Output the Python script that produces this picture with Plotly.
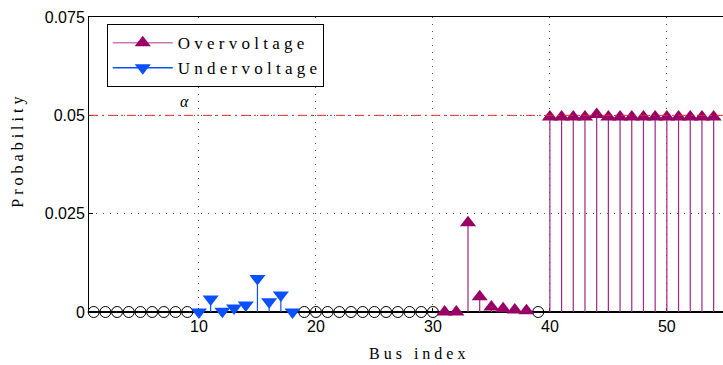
import plotly.graph_objects as go

# ---- data ----
zero_bus = [1, 2, 3, 4, 5, 6, 7, 8, 9,
            19, 20, 21, 22, 23, 24, 25, 26, 27, 28, 29, 30,
            39]
zero_val = [0.0] * len(zero_bus)

under_bus = [10, 11, 12, 13, 14, 15, 16, 17, 18]
under_val = [0.0, 0.0033, 0.0002, 0.0010, 0.0018, 0.0085, 0.0026, 0.0043, 0.0]

over_bus = [31, 32, 33, 34, 35, 36, 37, 38,
            40, 41, 42, 43, 44, 45, 46, 47, 48, 49, 50, 51, 52, 53, 54, 55]
over_val = [0.0, 0.0, 0.0227, 0.0039, 0.0013, 0.0008, 0.0005, 0.0003,
            0.0496, 0.0496, 0.0496, 0.0496, 0.0502, 0.0496, 0.0496, 0.0496,
            0.0496, 0.0496, 0.0496, 0.0496, 0.0496, 0.0496, 0.0496, 0.0496]

alpha = 0.05
x_ticks = [10, 20, 30, 40, 50]
y_ticks = [0, 0.025, 0.05, 0.075]
y_ticktext = ["0", "0.025", "0.05", "0.075"]

OVER_C = "#990066"
OVER_LINE = "#A32680"
UNDER_C = "#0A50FF"
SERIF = "Liberation Serif"
SANS = "Liberation Sans"


def spaced(s, sep="\u2009"):
    return sep.join(s)


def stems(xs, ys):
    sx, sy = [], []
    for x, y in zip(xs, ys):
        sx += [x, x, None]
        sy += [0, y, None]
    return sx, sy


fig = go.Figure()

# stems
ox, oy = stems(over_bus, over_val)
fig.add_trace(go.Scatter(x=ox, y=oy, mode="lines", line=dict(color=OVER_LINE, width=1.2),
                         showlegend=False, hoverinfo="skip", cliponaxis=False))
ux, uy = stems(under_bus, under_val)
fig.add_trace(go.Scatter(x=ux, y=uy, mode="lines", line=dict(color=UNDER_C, width=1.2),
                         showlegend=False, hoverinfo="skip", cliponaxis=False))

# zero circles
fig.add_trace(go.Scatter(x=zero_bus, y=zero_val, mode="markers",
                         marker=dict(symbol="circle-open", size=11, color="black",
                                     line=dict(width=1, color="black")),
                         showlegend=False, cliponaxis=False))

# markers
fig.add_trace(go.Scatter(x=over_bus, y=over_val, mode="markers",
                         marker=dict(symbol="triangle-up", size=14, color=OVER_C),
                         showlegend=False, cliponaxis=False))
fig.add_trace(go.Scatter(x=under_bus, y=under_val, mode="markers",
                         marker=dict(symbol="triangle-down", size=14, color=UNDER_C),
                         showlegend=False, cliponaxis=False))

# legend entries
fig.add_trace(go.Scatter(x=[None], y=[None], mode="lines+markers", name=spaced("Overvoltage", "\u2005"),
                         line=dict(color="#C77BB0", width=1.5),
                         marker=dict(symbol="triangle-up", size=14, color=OVER_C)))
fig.add_trace(go.Scatter(x=[None], y=[None], mode="lines+markers", name=spaced("Undervoltage", "\u2005"),
                         line=dict(color=UNDER_C, width=1.5),
                         marker=dict(symbol="triangle-down", size=14, color=UNDER_C)))

# alpha threshold line
fig.add_shape(type="line", xref="paper", x0=0, x1=1, yref="y", y0=alpha, y1=alpha,
              line=dict(color="#D83030", width=1, dash="9px,4px,2px,4px"), layer="above")
# baseline
fig.add_shape(type="line", xref="paper", x0=0, x1=1, yref="y", y0=0, y1=0,
              line=dict(color="black", width=2), layer="below")

fig.add_annotation(x=8.8, y=0.0535, text="<i>α</i>", showarrow=False,
                   font=dict(family=SERIF, size=16, color="black"))
fig.add_annotation(xref="paper", yref="paper", x=(417 - 89) / 634, y=-0.105,
                   text=spaced("Bus index", "\u2005"), showarrow=False, yanchor="top",
                   font=dict(family=SERIF, size=16, color="black"))
fig.add_annotation(xref="paper", yref="paper", x=(18 - 89) / 634, y=0.54, textangle=-90,
                   text=spaced("Probability", "\u2005"), showarrow=False, xanchor="center",
                   font=dict(family=SERIF, size=16, color="black"))

grid_dash = "1px,6px"
fig.update_layout(
    width=723, height=365,
    margin=dict(l=89, r=0, t=17, b=53),
    plot_bgcolor="white", paper_bgcolor="white",
    showlegend=True,
    legend=dict(x=0.028, y=0.976, xanchor="left", yanchor="top",
                bgcolor="white", bordercolor="black", borderwidth=1,
                font=dict(family=SERIF, size=17, color="black"),
                tracegroupgap=0, itemwidth=60),
    xaxis=dict(range=[0.6, 54.8], tickvals=x_ticks, showgrid=True, gridcolor="#555",
               griddash=grid_dash, gridwidth=1, zeroline=False, showline=True,
               linecolor="black", linewidth=1, mirror=True, ticks="inside", ticklen=4,
               tickcolor="black", layer="below traces",
               tickfont=dict(family=SANS, size=16, color="black")),
    yaxis=dict(range=[0, 0.075], tickvals=y_ticks, ticktext=y_ticktext, showgrid=True,
               gridcolor="#555", griddash=grid_dash, gridwidth=1, zeroline=False,
               showline=True, linecolor="black", linewidth=1, mirror=True,
               ticks="inside", ticklen=4, tickcolor="black", layer="below traces",
               tickfont=dict(family=SANS, size=16, color="black")),
)

fig.write_html("out.html")
